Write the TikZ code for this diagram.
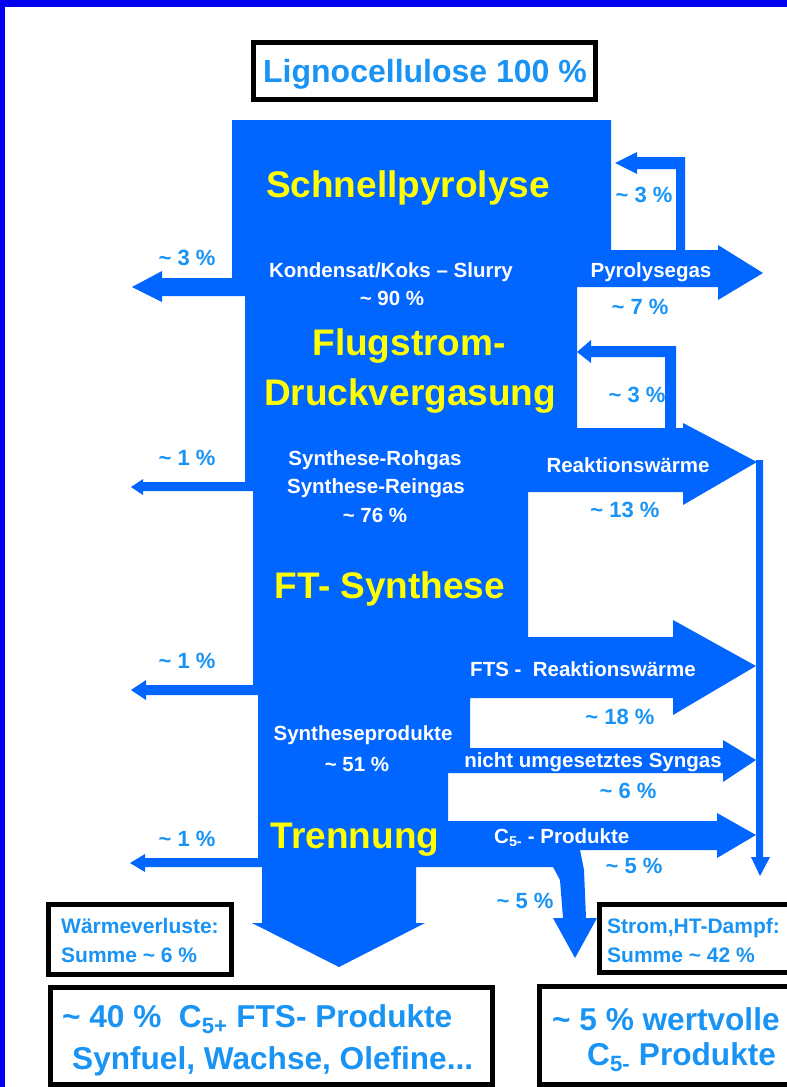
\documentclass[tikz,border=0pt]{standalone}
\usepackage{fontspec}
\setmainfont{Liberation Sans}
\definecolor{flow}{RGB}{0,102,255}
\definecolor{lbl}{RGB}{25,148,245}
\definecolor{frm}{RGB}{0,0,240}
\definecolor{yel}{RGB}{255,255,0}
\begin{document}
\begin{tikzpicture}[x=1pt,y=-1pt,
  bigt/.style={font=\fontsize{37}{40}\selectfont\bfseries, text=yel, inner sep=0, anchor=base},
  wlab/.style={font=\fontsize{20.5}{23}\selectfont\bfseries, text=white, inner sep=0, anchor=base},
  pct/.style={font=\fontsize{22}{24}\selectfont\bfseries, text=lbl, inner sep=0, anchor=base},
  boxline/.style={draw=black, line width=5},
  boxtxt/.style={font=\fontsize{21}{23}\selectfont\bfseries, text=lbl, inner sep=0, anchor=base west},
  bigtxt/.style={font=\fontsize{31.6}{34}\selectfont\bfseries, text=lbl, inner sep=0, anchor=base west}]
\useasboundingbox (0,0) rectangle (787,1087);
\clip (0,0) rectangle (787,1087);
\fill[white] (0,0) rectangle (787,1087);
% frame
\fill[frm] (0,0) rectangle (787,7);
\fill[frm] (0,0) rectangle (5,1087);
% main flow
\fill[flow] (232,120) -- (611,120) -- (611,250) -- (718,250) -- (718,245) -- (763,273) -- (718,300) -- (718,287)
  -- (577,287) -- (577,428) -- (683,428) -- (683,423) -- (757,462) -- (683,505) -- (683,492)
  -- (528,492) -- (528,637) -- (673,637) -- (673,620) -- (756,666) -- (673,715) -- (673,698)
  -- (470,698) -- (470,748) -- (723,748) -- (723,740) -- (756,760) -- (723,782) -- (723,773)
  -- (448,773) -- (448,821) -- (717,821) -- (717,813) -- (756,835) -- (717,858) -- (717,850)
  -- (580,850) -- (584,870) -- (586,918) -- (597,918) -- (575,958) -- (553,918) -- (563,918) -- (560,880) -- (553,867)
  -- (416,867) -- (416,923) -- (425,923) -- (339,967) -- (252,923) -- (262,923) -- (262,867)
  -- (145,867) -- (145,872) -- (130,863) -- (145,854) -- (145,858) -- (258,858)
  -- (258,695) -- (146,695) -- (146,700) -- (131,690) -- (146,680) -- (146,685) -- (253,685)
  -- (253,491) -- (143,491) -- (143,495) -- (131,487) -- (143,479) -- (143,482) -- (245,482)
  -- (245,296) -- (162,296) -- (162,302) -- (132,287) -- (162,271) -- (162,278) -- (232,278) -- cycle;
% recycle loops
\fill[flow] (615,163) -- (637,152) -- (637,157) -- (685,157) -- (685,252) -- (676,252) -- (676,169) -- (637,169) -- (637,174) -- cycle;
\fill[flow] (577,352) -- (591,340) -- (591,346) -- (676,346) -- (676,432) -- (665,432) -- (665,357) -- (591,357) -- (591,363) -- cycle;
% collector line
\fill[flow] (756,460) -- (763,460) -- (763,857) -- (770,857) -- (760,876) -- (751,857) -- (756,857) -- cycle;
% boxes
\draw[boxline] (253.5,42.5) rectangle (595.5,99.5);
\draw[boxline] (48.5,904.5) rectangle (231.5,974.5);
\draw[boxline] (599.5,904.5) rectangle (800,972.5);
\draw[boxline] (50.5,987.5) rectangle (492.5,1084.5);
\draw[boxline] (539.5,986.5) rectangle (800,1084.5);
% texts
\node[font=\fontsize{32}{35}\selectfont\bfseries, text=lbl, inner sep=0, anchor=base] (ligno) at (425,82) {Lignocellulose 100 \%};
\node[bigt] (schnell) at (408,197) {Schnellpyrolyse};
\node[bigt] (flug) at (409,355) {Flugstrom-};
\node[bigt] (druck) at (410,405) {Druckvergasung};
\node[bigt] (ft) at (390,598) {FT- Synthese};
\node[bigt] (trenn) at (355,848) {Trennung};
\node[wlab] (konds) at (391,277) {Kondensat/Koks -- Slurry};
\node[wlab] (k90) at (392,305) {\textasciitilde{} 90 \%};
\node[wlab] (pyro) at (651,277) {Pyrolysegas};
\node[wlab] (reak) at (628,472) {Reaktionswärme};
\node[wlab] (roh) at (375,465) {Synthese-Rohgas};
\node[wlab] (rein) at (376,493) {Synthese-Reingas};
\node[wlab] (r76) at (375,522) {\textasciitilde{} 76 \%};
\node[wlab] (fts) at (583,676) {FTS -\ \ Reaktionswärme};
\node[wlab] (sprod) at (363,740) {Syntheseprodukte};
\node[wlab] (s51) at (357,771) {\textasciitilde{} 51 \%};
\node[wlab] (nicht) at (593,767) {nicht umgesetztes Syngas};
\node[wlab, anchor=base west] (c5p) at (494,843) {C\textsubscript{5-} - Produkte};
\node[pct] (p3a) at (644,202) {\textasciitilde{} 3 \%};
\node[pct] (p7) at (640,314) {\textasciitilde{} 7 \%};
\node[pct] (p3b) at (637,402) {\textasciitilde{} 3 \%};
\node[pct] (p3l) at (187,265) {\textasciitilde{} 3 \%};
\node[pct] (p13) at (625,517) {\textasciitilde{} 13 \%};
\node[pct] (p1a) at (187,465) {\textasciitilde{} 1 \%};
\node[pct] (p1b) at (187,668) {\textasciitilde{} 1 \%};
\node[pct] (p18) at (620,724) {\textasciitilde{} 18 \%};
\node[pct] (p6) at (628,798) {\textasciitilde{} 6 \%};
\node[pct] (p5r) at (634,873) {\textasciitilde{} 5 \%};
\node[pct] (p5b) at (525,908) {\textasciitilde{} 5 \%};
\node[pct] (p1c) at (187,846) {\textasciitilde{} 1 \%};
\node[boxtxt] (wv1) at (61,933) {Wärmeverluste:};
\node[boxtxt] (wv2) at (61,962) {Summe \textasciitilde{} 6 \%};
\node[boxtxt] (st1) at (607,933) {Strom,HT-Dampf:};
\node[boxtxt] (st2) at (607,962) {Summe \textasciitilde{} 42 \%};
\node[bigtxt] (b1a) at (62,1027) {\textasciitilde{} 40 \%\ \ C\textsubscript{5+} FTS- Produkte};
\node[bigtxt] (b1b) at (72,1069) {Synfuel, Wachse, Olefine...};
\node[bigtxt] (b2a) at (552,1030) {\textasciitilde{} 5 \% wertvolle};
\node[bigtxt] (b2b) at (587,1065) {C\textsubscript{5-} Produkte};
\end{tikzpicture}
\end{document}
